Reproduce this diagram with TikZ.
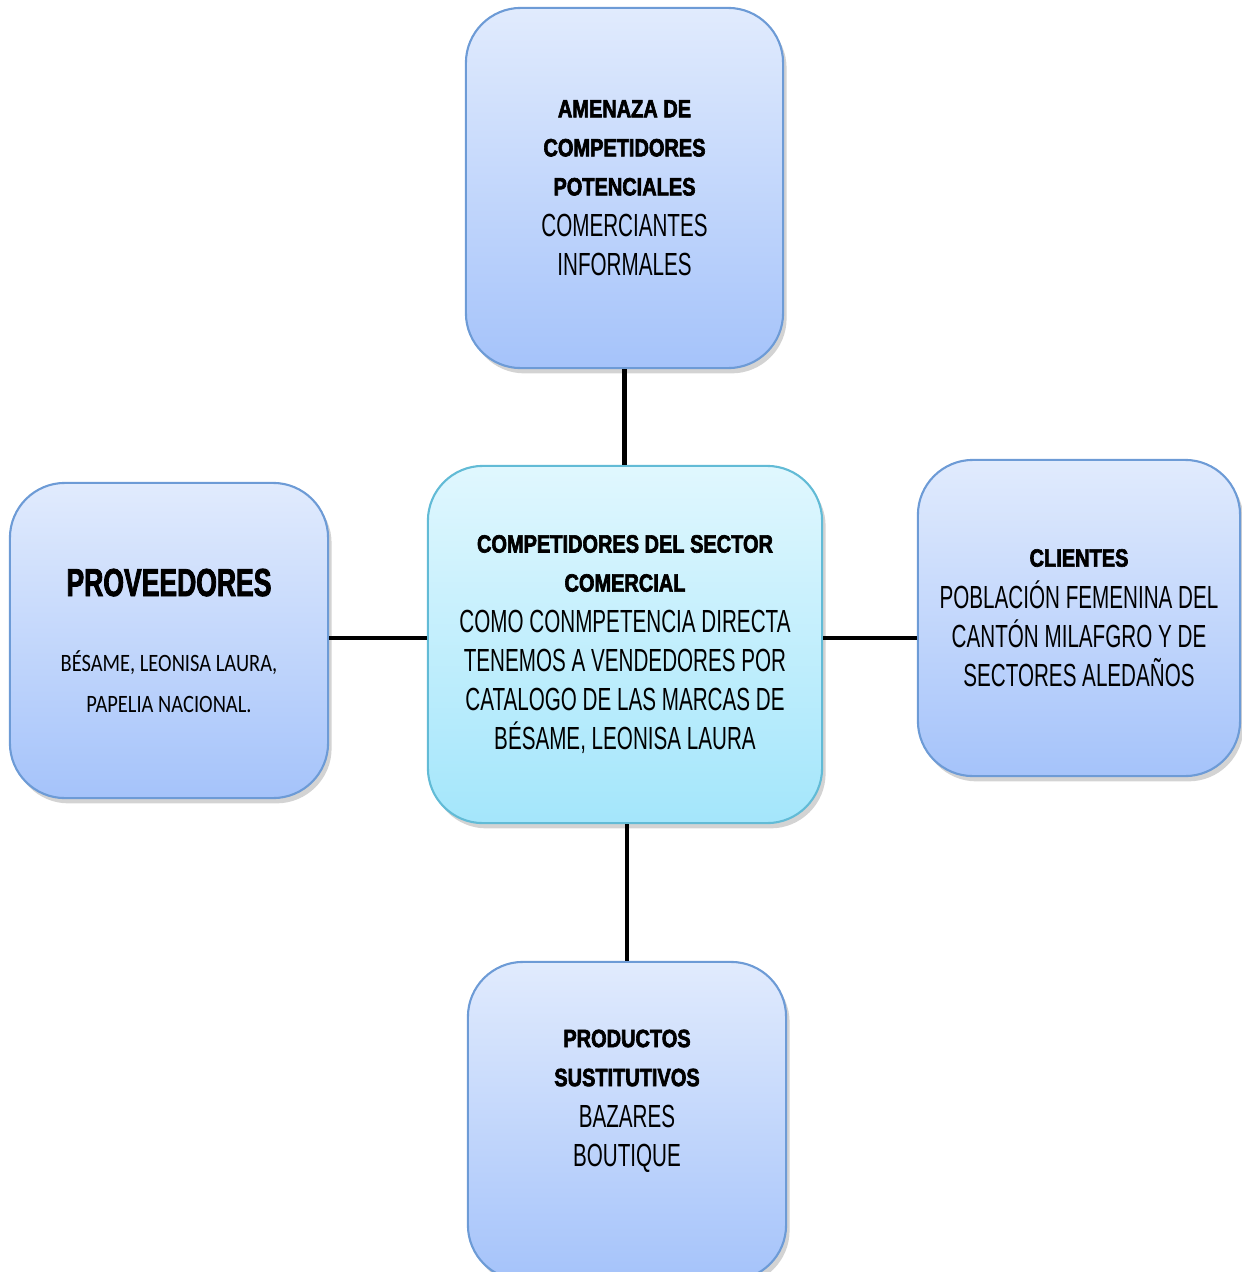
\documentclass[tikz,border=0pt]{standalone}
\usepackage{fontspec}
\setmainfont{Liberation Sans}[FakeStretch=0.645]
\newfontfamily\titlefont{Liberation Sans}[FakeStretch=0.8,FakeBold=2.5]
\newfontfamily\provfont{Liberation Sans}[FakeStretch=0.68,FakeBold=2]
\newfontfamily\marcafont{Carlito}[FakeStretch=0.82]
\usetikzlibrary{shadows}

\definecolor{boxtop}{HTML}{E1EBFD}
\definecolor{boxbot}{HTML}{A5C3FA}
\definecolor{boxline}{HTML}{6D9BD6}
\definecolor{hubtop}{HTML}{E0F7FE}
\definecolor{hubbot}{HTML}{A4E6FB}
\definecolor{hubline}{HTML}{62BBD6}

\newcommand{\ttl}[1]{{\titlefont\bfseries\fontsize{7.1}{11}\selectfont #1}}

\tikzset{
  box/.style={draw=boxline, line width=0.6pt, rounded corners=0.55cm,
    top color=boxtop, bottom color=boxbot,
    drop shadow={shadow xshift=1pt, shadow yshift=-1.5pt, opacity=0.35},
    align=center, inner sep=0pt, font=\fontsize{9.1}{11.1}\selectfont},
  hubbox/.style={box, draw=hubline, top color=hubtop, bottom color=hubbot},
  link/.style={line width=1.2pt}
}

\begin{document}
\begin{tikzpicture}[x=0.01cm,y=-0.01cm]
    \useasboundingbox (0,0) rectangle (1242,1272);
    \coordinate (hub) at (626,638);

    % five forces
    \node[box, minimum width=3.17cm, minimum height=3.6cm] (amenaza) at (624.5,188)
        {\ttl{AMENAZA DE}\\ \ttl{COMPETIDORES}\\ \ttl{POTENCIALES}\\[0.6pt] COMERCIANTES\\ INFORMALES};
    \node[hubbox, minimum width=3.94cm, minimum height=3.57cm] (sector) at (625,644.5)
        {\ttl{COMPETIDORES DEL SECTOR}\\ \ttl{COMERCIAL}\\[0.6pt] COMO CONMPETENCIA DIRECTA\\ TENEMOS A VENDEDORES POR\\ CATALOGO DE LAS MARCAS DE\\ BÉSAME, LEONISA LAURA};
    \node[box, minimum width=3.18cm, minimum height=3.15cm] (prov) at (169,640.5)
        {{\provfont\bfseries\fontsize{11.1}{13}\selectfont PROVEEDORES}\\[10.5pt]
         {\marcafont\fontsize{7.1}{11.4}\selectfont BÉSAME, LEONISA LAURA,}\\[0.3pt]
         {\marcafont\fontsize{7.1}{11.4}\selectfont PAPELIA NACIONAL.}};
    \node[box, minimum width=3.22cm, minimum height=3.16cm] (clientes) at (1079,618)
        {\ttl{CLIENTES}\\[0.8pt] POBLACIÓN FEMENINA DEL\\ CANTÓN MILAFGRO Y DE\\ SECTORES ALEDAÑOS};
    \node[box, minimum width=3.18cm, minimum height=3.18cm] (sust) at (627,1121) {};
    \node[align=center, font=\fontsize{9.1}{11.1}\selectfont] (susttxt) at (627,1101)
        {\ttl{PRODUCTOS}\\ \ttl{SUSTITUTIVOS}\\[0.6pt] BAZARES\\ BOUTIQUE};

    \draw[link] (amenaza.south) -- (amenaza.south |- sector.north);
    \draw[link] (sust.north) -- (sust.north |- sector.south);
    \draw[link] (hub -| prov.east) -- (hub -| sector.west);
    \draw[link] (hub -| sector.east) -- (hub -| clientes.west);
\end{tikzpicture}
\end{document}
